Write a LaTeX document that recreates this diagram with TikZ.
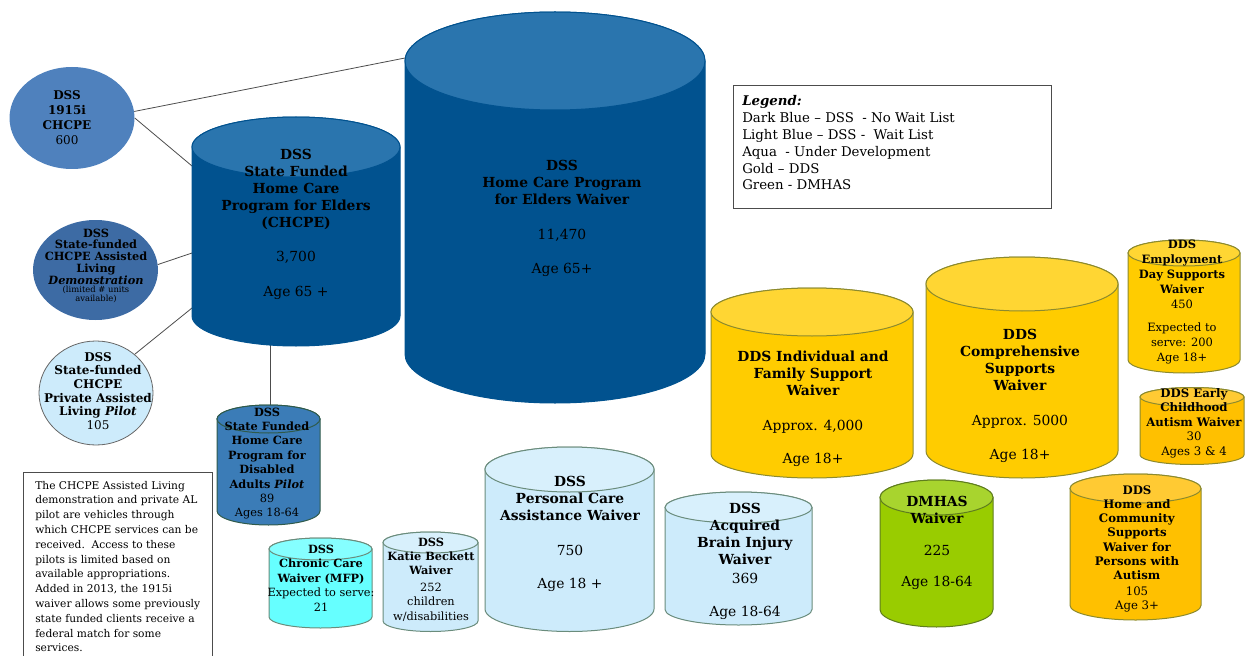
\documentclass[tikz,border=0pt]{standalone}
\usepackage{fontspec}
\setmainfont{DejaVu Serif}
\usepackage{tikz}
\usetikzlibrary{shapes.geometric}

\definecolor{dssDark}{HTML}{01528F}
\definecolor{dssDarkTop}{HTML}{2A75AE}
\definecolor{dssMid}{HTML}{4F81BD}
\definecolor{dssDemo}{HTML}{3D6BA4}
\definecolor{dssPilot}{HTML}{3B7CB7}
\definecolor{dssLight}{HTML}{CDEBFB}
\definecolor{dssLightTop}{HTML}{D8F0FC}
\definecolor{dssAqua}{HTML}{66FFFF}
\definecolor{dssAquaTop}{HTML}{85FFFF}
\definecolor{ddsGold}{HTML}{FFCC00}
\definecolor{ddsGoldTop}{HTML}{FFD633}
\definecolor{ddsDeep}{HTML}{FFC000}
\definecolor{ddsDeepTop}{HTML}{FFCA33}
\definecolor{dmhasGreen}{HTML}{99CC00}
\definecolor{dmhasTop}{HTML}{A8D42E}
\definecolor{rimGold}{HTML}{8C8A2E}
\definecolor{rimBlue}{HTML}{6A8C7C}
\definecolor{rimGreen}{HTML}{5F7D1E}
\definecolor{rimDark}{HTML}{2F5A4A}

% drum: cx, top y, rx, ry, bottom y, body, lid, rim
\newcommand\drum[8]{%
  \filldraw[fill=#6,draw=#8,line width=0.75pt]
    (#1-#3,#2) -- (#1-#3,#5) arc (180:0:#3 and #4) -- (#1+#3,#2) arc (0:-180:#3 and #4) -- cycle;
  \filldraw[fill=#7,draw=#8,line width=0.75pt] (#1,#2) ellipse (#3 and #4);
}

\begin{document}
\begin{tikzpicture}[x=0.75pt,y=-0.75pt,
  lbl/.style={align=center,inner sep=0pt},
  big/.style={lbl,font=\fontsize{10.4}{12.75}\selectfont},
  small/.style={lbl,font=\fontsize{8.5}{10.8}\selectfont},
  circ/.style={ellipse,draw=none,inner sep=0pt},
  link/.style={draw=black!70,line width=0.6pt}]
\useasboundingbox (0,0) rectangle (1249,656);

% connector ends
\coordinate (hcpe-w) at (405,58);
\coordinate (chcpe-a) at (192,166);
\coordinate (chcpe-b) at (192,253);
\coordinate (chcpe-c) at (192,308);
\coordinate (chcpe-s) at (270,345);
\coordinate (dsa-n) at (270,405);

% circles
\node[circ,fill=dssMid,minimum width=93.75pt,minimum height=76.5pt] (c1915) at (72,118) {};
\node[circ,fill=dssDemo,minimum width=93.75pt,minimum height=75pt] (demo) at (95.5,270) {};
\node[circ,fill=dssLight,draw=black!60,line width=0.6pt,minimum width=85.5pt,minimum height=78pt] (pilot) at (96,393) {};

% links
\draw[link] (c1915.6) -- (hcpe-w);
\draw[link] (c1915.0) -- (chcpe-a);
\draw[link] (demo.5) -- (chcpe-b);
\draw[link] (pilot.45) -- (chcpe-c);
\draw[link] (chcpe-s) -- (dsa-n);

% dark blue
\drum{555}{61}{150}{49}{354}{dssDark}{dssDarkTop}{dssDark}
\drum{296}{147}{104}{30}{316}{dssDark}{dssDarkTop}{dssDark}
\drum{268.5}{419}{51.5}{14}{511}{dssPilot}{dssPilot}{rimDark}
% light blue and aqua
\drum{320.5}{549}{51.5}{11}{617}{dssAqua}{dssAquaTop}{rimBlue}
\drum{430.5}{542.5}{47.5}{10.5}{621}{dssLight}{dssLightTop}{rimBlue}
\drum{569.5}{469.5}{84.5}{22.5}{609}{dssLight}{dssLightTop}{rimBlue}
\drum{738.5}{507.5}{73.5}{15.5}{609.5}{dssLight}{dssLightTop}{rimBlue}
% gold
\drum{812}{312}{101}{24}{454}{ddsGold}{ddsGoldTop}{rimGold}
\drum{1022}{284}{96}{27}{451}{ddsGold}{ddsGoldTop}{rimGold}
\drum{1184}{253}{56}{13}{360}{ddsGold}{ddsGoldTop}{rimGold}
\drum{1192}{397}{52}{9.5}{455}{ddsDeep}{ddsDeepTop}{rimGold}
\drum{1135.5}{488.5}{65.5}{14.5}{605.5}{ddsDeep}{ddsDeepTop}{rimGold}
% green
\drum{936.5}{497.5}{56.5}{17.5}{609.5}{dmhasGreen}{dmhasTop}{rimGreen}

% texts
\node[lbl,font=\fontsize{9}{11.25}\selectfont] (t1915) at (67,117.5)
  {\textbf{DSS}\\\textbf{1915i}\\\textbf{CHCPE}\\600};
\node[lbl,font=\fontsize{8.5}{8.8}\selectfont] (tdemo) at (96,256.5)
  {\textbf{DSS}\\\textbf{State-funded}\\\textbf{CHCPE Assisted}\\\textbf{Living}\\\textbf{\textit{Demonstration}}};
\node[lbl,font=\fontsize{6.3}{6.2}\selectfont] (tdemo2) at (96,294.5) {(limited \# units\\available)};
\node[lbl,font=\fontsize{9}{10.2}\selectfont] (tpilot) at (98,391)
  {\textbf{DSS}\\\textbf{State-funded}\\\textbf{CHCPE}\\\textbf{Private Assisted}\\\textbf{Living \textit{Pilot}}\\105};
\node[big] (hcpe) at (562,218.5)
  {\textbf{DSS}\\\textbf{Home Care Program}\\\textbf{for Elders Waiver}\\[13.5pt]11,470\\[12.75pt]Age 65+};
\node[big] (chcpe) at (296,224)
  {\textbf{DSS}\\\textbf{State Funded}\\\textbf{Home Care}\\\textbf{Program for Elders}\\\textbf{(CHCPE)}\\[12.75pt]3,700\\[13.5pt]Age 65 +};
\node[small] (dsa) at (267,463.5)
  {\textbf{DSS}\\\textbf{State Funded}\\\textbf{Home Care}\\\textbf{Program for}\\\textbf{Disabled}\\\textbf{Adults \textit{Pilot}}\\89\\Ages 18-64};
\node[small] (mfp) at (321,578)
  {\textbf{DSS}\\\textbf{Chronic Care}\\\textbf{Waiver (MFP)}\\Expected to serve:\\21};
\node[small] (katie) at (431,579.5)
  {\textbf{DSS}\\\textbf{Katie Beckett}\\\textbf{Waiver}\\[1.5pt]252\\children\\w/disabilities};
\node[big] (pca) at (570,534)
  {\textbf{DSS}\\\textbf{Personal Care}\\\textbf{Assistance Waiver}\\[13.5pt]750\\[12pt]Age 18 +};
\node[big] (abi) at (745,561.5)
  {\textbf{DSS}\\\textbf{Acquired}\\\textbf{Brain Injury}\\\textbf{Waiver}\\[1.5pt]369\\[12pt]Age 18-64};
\node[big] (ifs) at (813,409)
  {\textbf{DDS Individual and}\\\textbf{Family Support}\\\textbf{Waiver}\\[13.5pt]Approx. 4,000\\[12pt]Age 18+};
\node[big] (comp) at (1020,396)
  {\textbf{DDS}\\\textbf{Comprehensive}\\\textbf{Supports}\\\textbf{Waiver}\\[13.5pt]Approx. 5000\\[12.75pt]Age 18+};
\node[lbl,font=\fontsize{8.6}{11.25}\selectfont] (emp) at (1182,302.5)
  {\textbf{DDS}\\\textbf{Employment}\\\textbf{Day Supports}\\\textbf{Waiver}\\450\\[6pt]Expected to\\serve: 200\\Age 18+};
\node[lbl,font=\fontsize{8.8}{10.9}\selectfont] (early) at (1194,423)
  {\textbf{DDS Early}\\\textbf{Childhood}\\\textbf{Autism Waiver}\\30\\Ages 3 \& 4};
\node[big] (dmhas) at (937,543)
  {\textbf{DMHAS}\\\textbf{Waiver}\\[11.25pt]225\\[10.5pt]Age 18-64};
\node[lbl,font=\fontsize{8.8}{10.65}\selectfont] (hcs) at (1137,549)
  {\textbf{DDS}\\\textbf{Home and}\\\textbf{Community}\\\textbf{Supports}\\\textbf{Waiver for}\\\textbf{Persons with}\\\textbf{Autism}\\[1.5pt]105\\Age 3+};

% legend
\draw[black!70,line width=0.75pt] (733,86) rectangle (1051,208);
\node[lbl,align=left,anchor=west,font=\fontsize{10}{12.6}\selectfont] (legend) at (742,143)
  {\textbf{\textit{Legend:}}\\Dark Blue – DSS\ \ - No Wait List\\Light Blue – DSS -\ \ Wait List\\Aqua\ \ - Under Development\\Gold – DDS\\Green - DMHAS};

% note
\draw[black!70,line width=0.75pt] (23,472) rectangle (212,662);
\node[lbl,align=left,anchor=west,font=\fontsize{8}{11.1}\selectfont] (note) at (35,566.5)
  {The CHCPE Assisted Living\\demonstration and private AL\\pilot are vehicles through\\which CHCPE services can be\\received.\ \ Access to these\\pilots is limited based on\\available appropriations.\\Added in 2013, the 1915i\\waiver allows some previously\\state funded clients receive a\\federal match for some\\services.};
\end{tikzpicture}
\end{document}
